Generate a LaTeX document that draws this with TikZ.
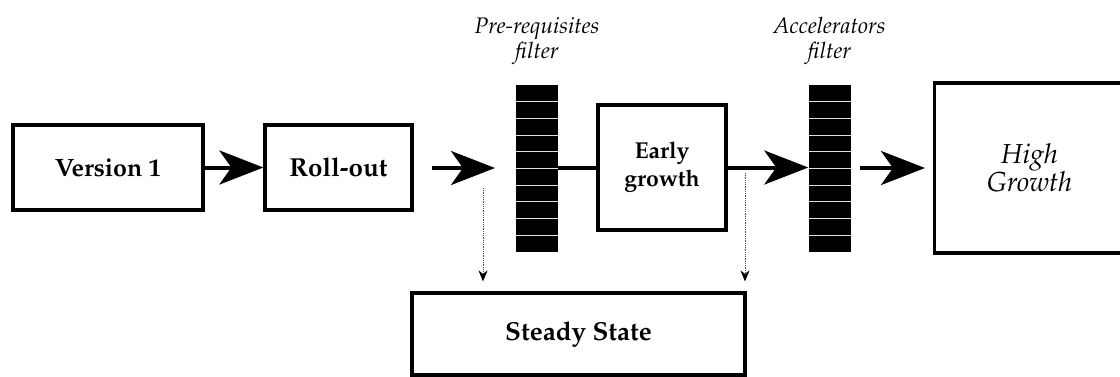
\documentclass[tikz,border=0pt]{standalone}
\IfFileExists{mathpazo.sty}{\usepackage[T1]{fontenc}\usepackage{mathpazo}}{\usepackage{fontspec}\setmainfont{Liberation Serif}}
\usetikzlibrary{arrows.meta,calc}
\begin{document}
\begin{tikzpicture}[x=1pt,y=-1pt,
  box/.style={draw,line width=3.2pt,inner sep=0pt,align=center},
  bold/.style={font=\fontsize{#1}{28}\selectfont\bfseries},
  flabel/.style={font=\fontsize{22.5}{25}\selectfont\itshape,align=center,inner sep=0pt},
  filterbar/.style={fill=black,inner sep=0pt,minimum width=42pt,minimum height=167pt},
  flow/.style={line width=4pt,-{Stealth[length=44pt,width=34pt,inset=12pt]}},
  exit/.style={densely dotted,line width=0.8pt,draw=black!70,-{Stealth[length=11pt,width=9pt,color=black]}}
]
\useasboundingbox (0,0) rectangle (1120,376);
\clip (0,0) rectangle (1120,376);

% stages
\node[box,bold=25,minimum width=190pt,minimum height=85pt] (v1) at (108,167.5) {Version 1};
\node[box,bold=26,minimum width=147pt,minimum height=85pt] (roll) at (338.5,167.5) {Roll-out};
\node[box,bold=23,minimum width=128pt,minimum height=125pt] (early) at (662,167.5) {Early\\growth};
\node[box,bold=26,minimum width=333pt,minimum height=82pt] (steady) at (578.5,334) {Steady State};
% the last stage runs on past the right edge
\node[box,anchor=west,minimum width=230pt,minimum height=170pt] (high) at (933,168) {};
\node[align=center,inner sep=0pt,font=\fontsize{27.5}{28}\selectfont\itshape] (highlab) at (1029.5,168) {High\\Growth};

% filters
\node[filterbar] (f1) at (537,168.5) {};
\node[filterbar] (f2) at (829.5,168.5) {};
\foreach \f in {f1,f2}{
  \foreach \k in {1,...,9}{
    \draw[white!75!gray,line width=1pt] ($(\f.north west)!\k/10!(\f.south west)$) -- ($(\f.north east)!\k/10!(\f.south east)$);
  }
}
\node[flabel,anchor=south] (f1lab) at (537,65) {Pre-requisites\\filter};
\node[flabel,anchor=south] (f2lab) at (829.5,65) {Accelerators\\filter};

% flow connectors
\coordinate (r1) at (432,168);
\coordinate (r2) at (495,168);
\coordinate (h1) at (860,168);
\coordinate (h2) at (925,168);
\draw[flow] (v1.east) -- (roll.west);
\draw[flow] (r1) -- (r2);
\draw[line width=4pt] (f1.east |- early.west) -- (early.west);
\draw[flow] (early.east) -- (f2.west |- early.east);
\draw[flow] (h1) -- (h2);

% exits to steady state
\coordinate (d1) at (483,188);
\coordinate (d2) at (745,173);
\draw[exit] (d1) -- ($(d1 |- steady.north)+(0,-10)$);
\draw[exit] (d2) -- ($(d2 |- steady.north)+(0,-10)$);
\end{tikzpicture}
\end{document}
